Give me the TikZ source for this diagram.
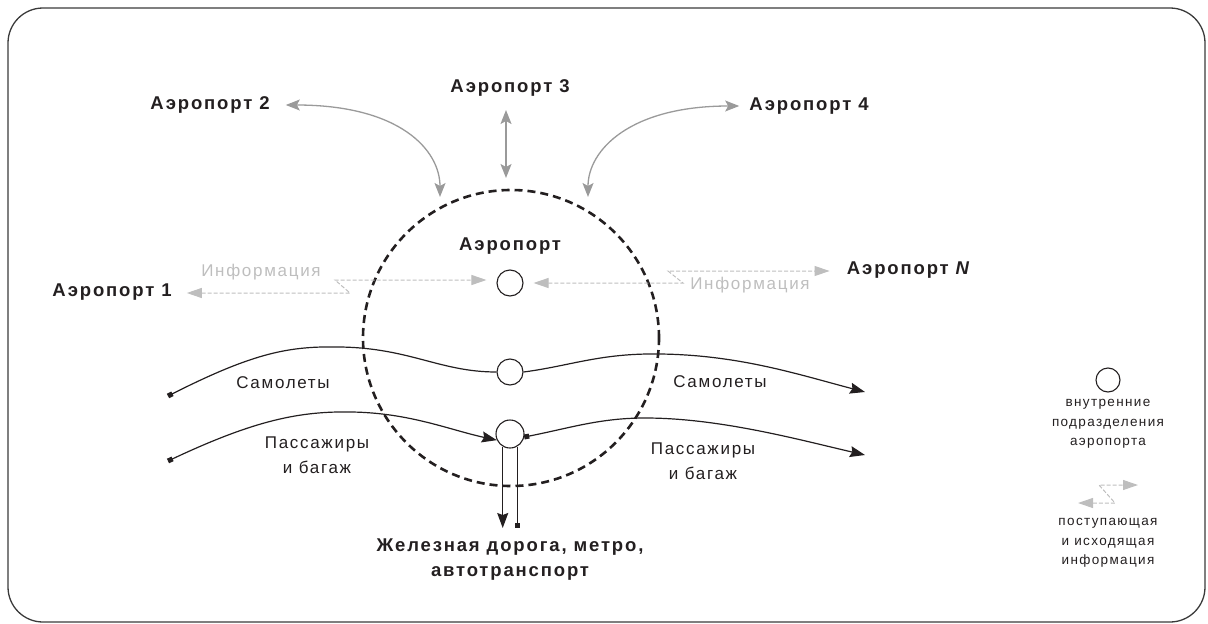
\documentclass[tikz,border=0pt]{standalone}
\usepackage{fontspec}
\setmainfont{Liberation Sans}
\newfontfamily\spfont{Liberation Sans}[LetterSpace=10]
\usetikzlibrary{arrows.meta,calc}
\definecolor{ink}{HTML}{231F20}
\definecolor{frameg}{HTML}{3A3A3A}
\definecolor{arrg}{HTML}{9A9A9A}
\definecolor{infog}{HTML}{BEBEBE}
\begin{document}
\begin{tikzpicture}[x=1pt,y=-1pt,
  title/.style={font=\spfont\bfseries\fontsize{18.5}{25}\selectfont, text=ink, inner sep=0pt, align=center},
  lbl/.style={font=\spfont\fontsize{17}{25}\selectfont, text=ink, inner sep=0pt, align=center},
  infotxt/.style={font=\spfont\fontsize{17}{22}\selectfont, text=infog, inner sep=0pt},
  legtxt/.style={font=\spfont\fontsize{13.5}{19.5}\selectfont, text=ink, inner sep=0pt, align=center},
  unit/.style={circle, draw=ink, line width=1.1pt, minimum size=26pt, inner sep=0pt, fill=white},
  garrow/.style={draw=arrg, line width=1.3pt, {Stealth[length=14pt,width=11pt,inset=3pt]}-{Stealth[length=14pt,width=11pt,inset=3pt]}},
  info/.style={draw=infog, line width=1pt, dash pattern=on 4pt off 2pt, {Triangle[length=15pt,width=10pt]}-{Triangle[length=15pt,width=10pt]}},
  flow/.style={draw=ink, line width=1.2pt},
  endtip/.style={-{Stealth[length=15pt,width=11pt,inset=2pt]}},
  dottip/.style={{Square[length=5pt,width=5pt]}-},
  dotend/.style={{Square[length=5pt,width=5pt]}-{Stealth[length=15pt,width=11pt,inset=2pt]}},
]
\useasboundingbox (0,0) rectangle (1208,624);
\draw[frameg, line width=1.3pt, rounded corners=35pt] (8,8) rectangle (1205,622);

% ring
\node[circle, draw=ink, line width=2.6pt, dash pattern=on 8pt off 5pt, minimum size=296pt, inner sep=0pt] (ring) at (511,338) {};

% labels
\node[title] (a1) at (112,292) {Аэропорт 1};
\node[title] (a2) at (210,105) {Аэропорт 2};
\node[title] (a3) at (510,88) {Аэропорт 3};
\node[title] (a4) at (809,106) {Аэропорт 4};
\node[title] (aN) at (909,270) {Аэропорт \textit{N}};
\node[title] (ap) at (510,246) {Аэропорт};
\node[title] (rail) at (510,560) {Железная дорога, метро,\\автотранспорт};

\node[infotxt] (i1) at (261,272) {Информация};
\node[infotxt] (i2) at (750,285) {Информация};

\node[lbl] (sL) at (283,383) {Самолеты};
\node[lbl] (sR) at (720,382) {Самолеты};
\node[lbl] (pL) at (317,455) {Пассажиры\\и багаж};
\node[lbl] (pR) at (703,461) {Пассажиры\\и багаж};

% unit circles
\node[unit] (c1) at (510,283) {};
\node[unit] (c2) at (510,372) {};
\node[unit, minimum size=28pt] (c3) at (510,434) {};

% coordinates
\coordinate (pl0) at (168,396);
\coordinate (pr1) at (865,392);
\coordinate (pp0) at (168,461);
\coordinate (pr2) at (865,455);
\coordinate (rl) at (510,528);
\coordinate (t2) at (440,197);
\coordinate (t4) at (588,197);
\coordinate (t3a) at (506,110);
\coordinate (t3b) at (506,178);
\coordinate (l1) at (350,293);
\coordinate (l2) at (335,280);
\coordinate (r1) at (683,283);
\coordinate (r2) at (668,271);

% flows
\draw[flow, dottip] (pl0) .. controls (255,352) and (290,346) .. (340,347) .. controls (410,348) and (440,372) .. (c2.west);
\draw[flow, endtip] (c2.east) .. controls (570,366) and (600,353) .. (660,354) .. controls (740,355) and (800,375) .. (pr1);
\draw[flow, dotend] (pp0) .. controls (255,420) and (300,411) .. (352,412) .. controls (410,413) and (450,430) .. (c3.205);
\draw[flow, dotend] (c3.-12) .. controls (570,428) and (600,418) .. (645,418) .. controls (720,418) and (800,440) .. (pr2);
\draw[flow, endtip] (c3.240) -- (c3.240 |- rl);
\draw[flow, dottip] (c3.300 |- rl) -- (c3.300);

% airport exchange arrows
\draw[garrow, shorten <=16pt] (a2.east) .. controls (400,105) and (440,150) .. (t2);
\draw[garrow] (t3a) -- (t3b);
\draw[garrow, shorten <=10pt] (a4.west) .. controls (630,106) and (588,150) .. (t4);

% information
\draw[info, shorten <=15pt, shorten >=10pt] (a1.east |- l1) -- (l1) -- (l2) -- (c1.west |- l2);
\draw[info, shorten <=10pt, shorten >=17pt] (c1.east) -- (r1) -- (r2) -- (aN.west |- r2);

% legend
\node[unit, minimum size=24pt] (lc) at (1108,380) {};
\node[legtxt] (lt1) at (1108,424) {внутренние\\подразделения\\аэропорта};
\coordinate (g1) at (1078,503);
\coordinate (g2) at (1115,503);
\coordinate (g3) at (1099,485);
\coordinate (g4) at (1138,485);
\draw[info] (g1) -- (g2) -- (g3) -- (g4);
\node[legtxt] (lt2) at (1108,543) {поступающая\\и исходящая\\информация};
\end{tikzpicture}
\end{document}
